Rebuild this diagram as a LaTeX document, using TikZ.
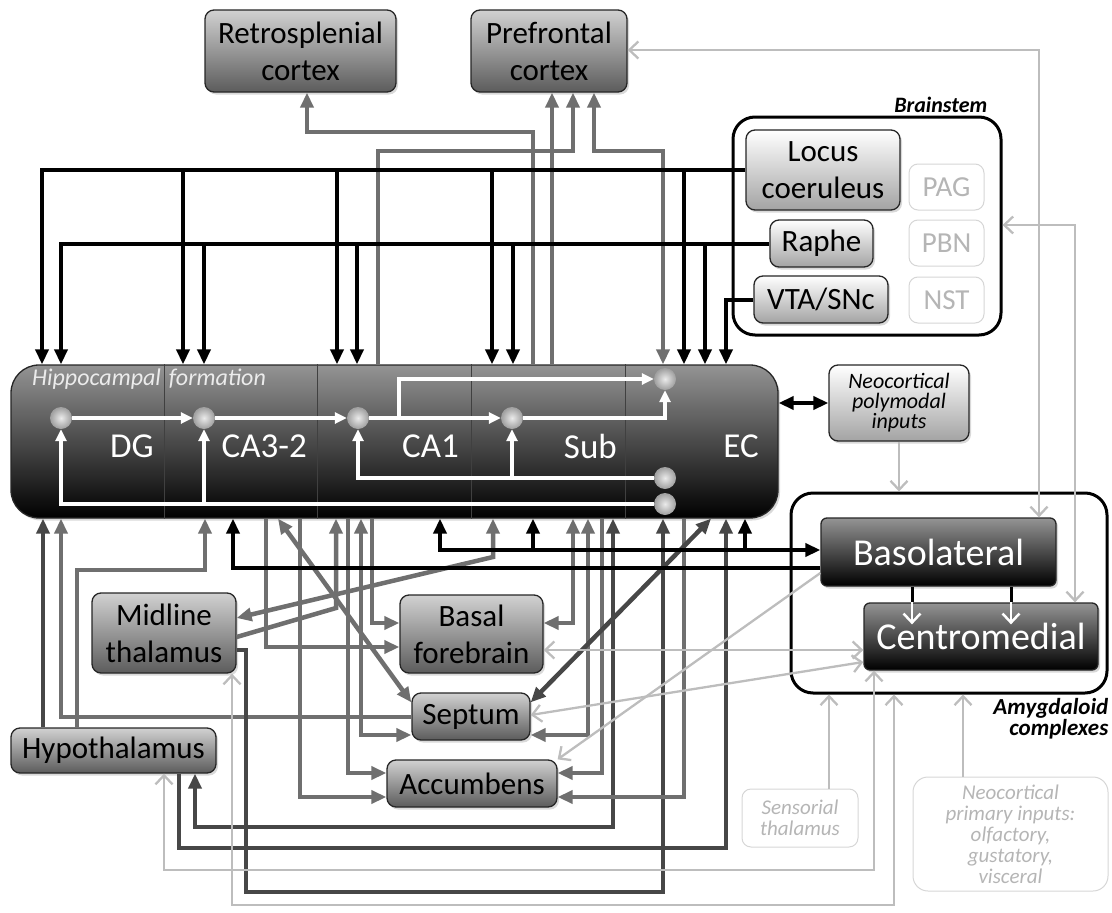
\documentclass[tikz,border=0pt]{standalone}
\usepackage{fontspec}
\setmainfont{Carlito}
\usetikzlibrary{arrows.meta,shadows,shadings}
\definecolor{gcol}{HTML}{6F6F6F}
\definecolor{dgcol}{HTML}{474747}
\definecolor{lgcol}{HTML}{BDBDBD}
\definecolor{ghostc}{HTML}{B5B5B5}
\definecolor{ghostb}{HTML}{D6D6D6}
\begin{document}
\begin{tikzpicture}[x=1pt,y=-1pt,
  ftip/.tip={Triangle[length=15pt,width=13pt]},
  wtip/.tip={Triangle[length=12pt,width=11pt]},
  otip/.tip={Straight Barb[length=9pt,width=17pt]},
  bigfont/.style={font=\fontsize{31}{37}\selectfont},
  boxbase/.style={rounded corners=9pt, draw=black!85, line width=1.3pt, align=center, inner sep=0pt,
     drop shadow={opacity=0.3,shadow xshift=2pt,shadow yshift=-2.5pt}},
  gbox/.style={boxbase, top color=black!18, bottom color=black!64, bigfont},
  lbox/.style={boxbase, top color=white, bottom color=black!36, bigfont},
  dbox/.style={boxbase, top color=black!42, bottom color=black, text=white},
  ghost/.style={rounded corners=9pt, draw=ghostb, line width=1pt, text=ghostc, align=center, inner sep=0pt},
  frm/.style={rounded corners=22pt, draw=black, line width=3pt, fill=white},
  kln/.style={line width=4pt, black},
  gln/.style={line width=4.5pt, gcol},
  dgln/.style={line width=4.5pt, dgcol},
  lgln/.style={line width=2.3pt, lgcol},
  wln/.style={line width=3.5pt, white},
  dot/.style={circle, minimum size=22pt, inner sep=0pt, inner color=black!8, outer color=black!38},
  hl/.style={text=white, font=\fontsize{35}{40}\selectfont, anchor=east, inner sep=0pt},
  lab/.style={font=\fontsize{22}{22}\selectfont\bfseries\itshape, inner sep=0pt, align=right},
  ghostit/.style={font=\fontsize{21}{21}\selectfont\itshape}
]
\useasboundingbox (0,0) rectangle (1112,913);

% frames
\node[frm, minimum width=268pt, minimum height=218pt] (bs) at (867,226) {};
\node[frm, minimum width=316pt, minimum height=200pt] (amyg) at (949,593) {};
\node[lab, anchor=south east] (bslab) at ([xshift=-15pt,yshift=3pt]bs.north east) {Brainstem};
\node[lab, anchor=north east, font=\fontsize{23}{20}\selectfont\bfseries\itshape] (amlab) at ([yshift=-4pt]amyg.south east) {Amygdaloid\\complexes};

% nodes
\node[gbox, minimum width=191pt, minimum height=82pt] (retro) at (300.5,51) {Retrosplenial\\cortex};
\node[gbox, minimum width=156pt, minimum height=82pt] (pfc) at (549,51) {Prefrontal\\cortex};
\node[lbox, minimum width=154pt, minimum height=80pt] (lc) at (823,170) {Locus\\coeruleus};
\node[lbox, minimum width=103pt, minimum height=47pt] (raphe) at (821.5,243.5) {Raphe};
\node[lbox, minimum width=134pt, minimum height=47pt] (vta) at (821,299.5) {VTA/SNc};
\node[ghost, minimum width=75pt, minimum height=46pt, font=\fontsize{29}{32}\selectfont] (pag) at (946.5,187) {PAG};
\node[ghost, minimum width=75pt, minimum height=46pt, font=\fontsize{29}{32}\selectfont] (pbn) at (946.5,243) {PBN};
\node[ghost, minimum width=75pt, minimum height=46pt, font=\fontsize{29}{32}\selectfont] (nst) at (946.5,300) {NST};

\node[dbox, rounded corners=28pt, minimum width=767pt, minimum height=153pt] (hippo) at (394.5,441.5) {};
\node[lbox, minimum width=140pt, minimum height=76pt, font=\fontsize{22}{20}\selectfont\itshape] (neo) at (899,403) {Neocortical\\polymodal\\inputs};
\node[dbox, rounded corners=6pt, minimum width=235pt, minimum height=68pt, font=\fontsize{38}{40}\selectfont] (bl) at (938.5,552) {Basolateral};
\node[dbox, rounded corners=6pt, minimum width=234pt, minimum height=67pt, font=\fontsize{38}{40}\selectfont] (cm) at (981,636.5) {Centromedial};

\node[gbox, minimum width=144pt, minimum height=80pt] (mt) at (164,633) {Midline\\thalamus};
\node[gbox, minimum width=143pt, minimum height=78pt] (bf) at (471.5,634) {Basal\\forebrain};
\node[gbox, minimum width=118pt, minimum height=47pt] (septum) at (471,716.5) {Septum};
\node[gbox, minimum width=170pt, minimum height=47pt] (acc) at (472,783.5) {Accumbens};
\node[gbox, minimum width=205pt, minimum height=45pt] (hyp) at (113.5,750.5) {Hypothalamus};
\node[ghost, ghostit, minimum width=116pt, minimum height=58pt] (sens) at (800,818) {Sensorial\\thalamus};
\node[ghost, ghostit, rounded corners=15pt, minimum width=195pt, minimum height=114pt] (neop) at (1010.5,834) {Neocortical\\primary inputs:\\olfactory,\\gustatory,\\visceral};

% hippocampal internals
\foreach \x in {164,317,471,625} \draw[black!75, line width=0.8pt] (hippo.north -| \x,0) -- (hippo.south -| \x,0);
\node[anchor=north west, inner sep=0pt, text=black!8, font=\fontsize{24}{24}\selectfont\itshape] (hflab) at (32,369) {Hippocampal\hspace{8pt}formation};
\node[hl] (dglab) at (154,446) {DG};
\node[hl] (ca3lab) at (307,446) {CA3-2};
\node[hl] (ca1lab) at (459,446) {CA1};
\node[hl] (sublab) at (617,446) {Sub};
\node[hl] (eclab) at (759,446) {EC};

\node[dot] (d1) at (61,418) {};
\node[dot] (d2) at (204,418) {};
\node[dot] (d3) at (358,418) {};
\node[dot] (d4) at (512,418) {};
\node[dot] (d5) at (665,379) {};
\node[dot] (d6) at (665,478) {};
\node[dot] (d7) at (665,504) {};
\draw[wln,-wtip] (d1) -- (d2);
\draw[wln,-wtip] (d2) -- (d3);
\draw[wln,-wtip] (d3) -- (d4);
\draw[wln,-wtip] (d3.east -| 399,0) |- (d5);
\draw[wln,-wtip] (d4) -| (d5);
\draw[wln,-wtip] (d6) -| (d3);
\draw[wln,-wtip] (d6.west -| 512,0) -- (d4);
\draw[wln,-wtip] (d7) -| (d1);
\draw[wln,-wtip] (d7.west -| 204,0) -- (d2);

% gray lines to cortex
\draw[gln,-ftip] (hippo.north -| 533,0) |- (307,132) -- (retro.south -| 307,0);
\draw[gln,-ftip] (hippo.north -| 378,0) |- (573,151) -- (pfc.south -| 573,0);
\draw[gln,-ftip] (hippo.north -| 552,0) -- (pfc.south -| 552,0);
\draw[gln,ftip-ftip] (pfc.south -| 594,0) |- (663,151) -- (hippo.north -| 663,0);

% brainstem projections
\draw[kln,-ftip] (lc.west) -| (hippo.north -| 42,0);
\foreach \x in {183,337,492,684} \draw[kln,-ftip] (lc.west -| \x,0) -- (hippo.north -| \x,0);
\draw[kln,-ftip] (raphe.west) -| (hippo.north -| 61,0);
\foreach \x in {204,357,513,705} \draw[kln,-ftip] (raphe.west -| \x,0) -- (hippo.north -| \x,0);
\draw[kln,-ftip] (vta.west) -| (hippo.north -| 726,0);
\draw[kln,ftip-ftip] (hippo.east |- neo.west) -- (neo.west);

% lower gray connections
\draw[dgln,-ftip] (hyp.north -| 43,0) -- (hippo.south -| 43,0);
\draw[gln,-ftip] (septum.west |- 0,717) -| (hippo.south -| 61,0);
\draw[gln,-ftip] (hyp.north -| 77,0) |- (205,570) -- (hippo.south -| 205,0);
\draw[gln,-ftip] (hippo.south -| 266,0) |- (bf.west |- 0,647);
\draw[gln,ftip-ftip] (hippo.south -| 278,0) -- ([yshift=-10pt]septum.north west);
\draw[gln,-ftip] (hippo.south -| 300,0) |- (acc.west |- 0,797);
\draw[gln,-ftip] (mt.east |- 0,637) -- (336,608) -- (hippo.south -| 336,0);
\draw[gln,-ftip] (hippo.south -| 348,0) |- (acc.west |- 0,773);
\draw[gln,ftip-ftip] (hippo.south -| 361,0) |- (septum.west |- 0,735);
\draw[gln,-ftip] (hippo.south -| 372,0) |- (bf.west |- 0,623);
\draw[gln,ftip-ftip] (hippo.south -| 493,0) -- (493,557) -- (mt.east |- 0,618);
\draw[gln,ftip-ftip] (hippo.south -| 573,0) |- (bf.east |- 0,623);
\draw[gln,ftip-ftip] (hippo.south -| 588,0) |- (septum.east |- 0,735);
\draw[gln,-ftip] (hippo.south -| 602,0) |- (acc.east |- 0,773);
\draw[dgln,ftip-ftip] (hippo.south -| 613,0) |- (195,827) -- (hyp.south -| 195,0);
\draw[dgln,-ftip] (mt.east |- 0,650) -| (246,892) -| (hippo.south -| 663,0);
\draw[gln,-ftip] (hippo.south -| 684,0) |- (acc.east |- 0,797);
\draw[dgln,ftip-ftip] ([yshift=-10pt]septum.north east) -- (hippo.south -| 711,0);
\draw[dgln,-ftip] (hyp.south -| 179,0) |- (726,848) -- (hippo.south -| 726,0);

% basolateral black connections
\draw[kln,ftip-ftip] (hippo.south -| 440,0) |- (bl.west |- 0,550);
\foreach \x in {533,745} \draw[kln,-ftip] (\x,550) -- (hippo.south -| \x,0);
\draw[kln,-ftip] (bl.west |- 0,568) -| (hippo.south -| 233,0);
\foreach \x in {912,1011} {
  \draw[line width=3pt] (bl.south -| \x,0) -- (cm.north -| \x,0);
  \draw[white, line width=2.5pt, -otip] (cm.north -| \x,0) -- ++(0,22);
}

% light gray connections
\draw[lgln,otip-otip] (pfc.east |- 0,50) -| (bl.north -| 1039,0);
\draw[lgln,otip-otip] (bs.east |- 0,225) -| (cm.north -| 1075,0);
\draw[lgln,-otip] (neo.south) -- (amyg.north -| neo.south);
\draw[lgln,-otip] (sens.north -| 829,0) -- (amyg.south -| 829,0);
\draw[lgln,-otip] (neop.north -| 963,0) -- (amyg.south -| 963,0);
\draw[lgln,otip-otip] (hyp.south -| 164,0) |- (874,870) -- (cm.south -| 874,0);
\draw[lgln,otip-otip] (mt.south -| 232,0) |- (894,905) -- (amyg.south -| 894,0);
\draw[lgln,-otip] (bl.west |- 0,573) -- (acc.north east);
\draw[lgln,otip-otip] (bf.east |- 0,650) -- (cm.west |- 0,650);
\draw[lgln,otip-otip] (septum.east |- 0,715) -- (cm.west |- 0,662);
\end{tikzpicture}
\end{document}
